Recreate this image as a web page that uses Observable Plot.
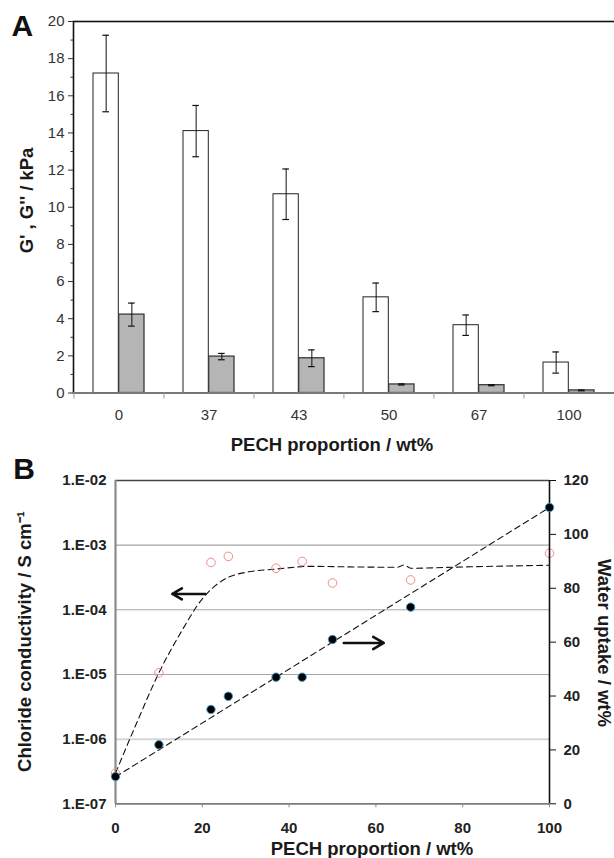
<!DOCTYPE html>
<html>
<head>
<meta charset="utf-8">
<script src="https://cdn.jsdelivr.net/npm/d3@7"></script>
<script src="https://cdn.jsdelivr.net/npm/@observablehq/plot@0.6"></script>
<style>
  body { margin: 0; background: #fff; }
  #wrap { position: relative; width: 614px; height: 858px; overflow: hidden; background: #fff; }
  #wrap svg { position: absolute; left: 0; }
</style>
</head>
<body>
<div id="wrap"></div>
<script>
// ---------- Panel A data ----------
const categories = ["0", "37", "43", "50", "67", "100"];
const gPrime      = [17.2, 14.1, 10.7, 5.15, 3.65, 1.64];
const gPrimeErr   = [2.06, 1.38, 1.36, 0.77, 0.55, 0.57];
const gDouble     = [4.22, 1.96, 1.87, 0.46, 0.42, 0.14];
const gDoubleErr  = [0.62, 0.17, 0.45, 0.03, 0.03, 0.02];
const yTicksA     = [0, 2, 4, 6, 8, 10, 12, 14, 16, 18, 20];
const yMinorA     = [1, 3, 5, 7, 9, 11, 13, 15, 17, 19];

// ---------- Panel B data ----------
const pech         = [0, 10, 22, 26, 37, 43, 50, 68, 100];
const conductivity = [2.97e-7, 1.06e-5, 5.4e-4, 6.7e-4, 4.4e-4, 5.6e-4, 2.6e-4, 2.9e-4, 7.5e-4];
const waterUptake  = [10.1, 21.9, 35, 39.9, 47, 47, 61, 73, 110];
const condFitX     = [0, 5, 10, 15, 20, 25, 30, 37, 45, 55, 65, 66.5, 68, 80, 100];
const condFitY     = [2.97e-7, 1.86e-6, 1.06e-5, 4.4e-5, 1.48e-4, 2.95e-4, 3.8e-4, 4.27e-4, 4.7e-4, 4.6e-4, 4.55e-4, 4.95e-4, 4.4e-4, 4.6e-4, 4.9e-4];
const waterFitX    = [0, 100];
const waterFitY    = [10, 110];
const condTicks    = [1e-2, 1e-3, 1e-4, 1e-5, 1e-6, 1e-7];
const condGrid     = [1e-3, 1e-4, 1e-5];
const condGridLight = [1e-6];
const waterTicks   = [0, 20, 40, 60, 80, 100, 120];
const xTicksB      = [0, 20, 40, 60, 80, 100];
const arrowCond    = [{x1: 20.7, x2: 13.1, y: 1.76e-4}];
const arrowWater   = [{x1: 52.6, x2: 61.8, y: 59.7}];

// ---------- tables ----------
const tableA = categories.map((c, i) => ({cat: c, gp: gPrime[i], gpe: gPrimeErr[i], gd: gDouble[i], gde: gDoubleErr[i]}));
const condData = pech.map((x, i) => ({x, y: conductivity[i]}));
const waterData = pech.map((x, i) => ({x, y: waterUptake[i]}));
const condFit = condFitX.map((x, i) => ({x, y: condFitY[i]}));
const waterFit = waterFitX.map((x, i) => ({x, y: waterFitY[i]}));

const FONT = "Arial, 'Liberation Sans', sans-serif";
const W = 614;

// ---------- Panel A ----------
const A_H = 440, A_ML = 73, A_MR = 0, A_MT = 21, A_MB = 47.5;
const padInner = 0.43, padOuter = 0.215;
const stepA = (W - A_ML - A_MR) / (categories.length - padInner + 2 * padOuter);
const bwA = stepA * (1 - padInner);
const half = bwA / 2;
const capW = 7;
const capInset = (bwA - capW) / 2;

const errMarks = (val, err, shift) => [
  Plot.ruleX(tableA, {x: "cat", y1: d => d[val] - d[err], y2: d => d[val] + d[err], dx: shift, stroke: "#111", strokeWidth: 1}),
  Plot.tickY(tableA, {x: "cat", y: d => d[val] + d[err], dx: shift, insetLeft: capInset, insetRight: capInset, stroke: "#111", strokeWidth: 1.2}),
  Plot.tickY(tableA, {x: "cat", y: d => d[val] - d[err], dx: shift, insetLeft: capInset, insetRight: capInset, stroke: "#111", strokeWidth: 1.2})
];

const titleStyle = {fontWeight: "bold", fontSize: 18.5, fill: "#1a1a1a", lineAnchor: "bottom", textAnchor: "middle"};

const plotA = Plot.plot({
  width: W, height: A_H,
  marginLeft: A_ML, marginRight: A_MR, marginTop: A_MT, marginBottom: A_MB,
  style: {fontFamily: FONT, fontSize: "15px", color: "#222", background: "transparent"},
  x: {type: "band", domain: categories, paddingInner: padInner, paddingOuter: padOuter, align: 0.5},
  y: {domain: [0, 20]},
  marks: [
    Plot.frame({stroke: "#111", strokeWidth: 1.6, insetRight: -10}),
    Plot.barY(tableA, {x: "cat", y: "gp", fill: "white", stroke: "#222", strokeWidth: 1, insetRight: half}),
    Plot.barY(tableA, {x: "cat", y: "gd", fill: "#b5b5b5", stroke: "#3a3a3a", strokeWidth: 1.3, insetLeft: half}),
    ...errMarks("gp", "gpe", -half / 2),
    ...errMarks("gd", "gde", half / 2),
    Plot.ruleY([0], {stroke: "#8c8c8c", strokeWidth: 1.6}),
    Plot.axisY(yTicksA, {tickSize: 5, tickPadding: 4, stroke: "#333", fill: "#333", fontSize: 15, label: null}),
    Plot.axisY(yMinorA, {tickSize: 2.5, tickFormat: () => "", stroke: "#333", label: null}),
    Plot.axisX({tickSize: 0, tickPadding: 16, fill: "#333", fontSize: 15, label: null}),
    Plot.axisX({tickSize: 6, tickFormat: () => "", dx: -stepA / 2, stroke: "#999", label: null}),
    Plot.text(["A"], {frameAnchor: "top-left", dx: -62, dy: 14, textAnchor: "start", lineAnchor: "bottom", fontSize: 30, fontWeight: "bold", fill: "#111"}),
    Plot.text(["G' , G'' / kPa"], {frameAnchor: "left", rotate: -90, dx: -41, dy: -6.75, ...titleStyle})
  ]
});
plotA.style.top = "0px";

// ---------- Panel B ----------
const B_TOP = 422, B_H = 436, B_ML = 115, B_MR = 65, B_MT = 58, B_MB = 54.7;
const fmtE = d => "1.E-" + String(Math.round(-Math.log10(d))).padStart(2, "0");

const plotB1 = Plot.plot({
  width: W, height: B_H,
  marginLeft: B_ML, marginRight: B_MR, marginTop: B_MT, marginBottom: B_MB,
  style: {fontFamily: FONT, fontSize: "15px", color: "#222", background: "transparent"},
  x: {domain: [0, 100]},
  y: {type: "log", domain: [1e-7, 1e-2]},
  marks: [
    Plot.ruleY(condGrid, {stroke: "#a6a6a6", strokeWidth: 1.1}),
    Plot.ruleY(condGridLight, {stroke: "#d6d6d6", strokeWidth: 2}),
    Plot.ruleY([1e-2], {stroke: "#444", strokeWidth: 1.6}),
    Plot.ruleY([1e-7], {stroke: "#7a7a7a", strokeWidth: 1.8}),
    Plot.ruleX([0], {stroke: "#8a8a8a", strokeWidth: 2.2}),
    Plot.line(condFit, {x: "x", y: "y", curve: "monotone-x", stroke: "#111", strokeWidth: 1.1, strokeDasharray: "6,4"}),
    Plot.dot(condData, {x: "x", y: "y", r: 4.3, stroke: "#f08a8a", fill: "none", strokeWidth: 1}),
    Plot.arrow(arrowCond, {x1: "x1", x2: "x2", y1: "y", y2: "y", stroke: "#111", strokeWidth: 2.6, headLength: 7}),
    Plot.axisY(condTicks, {tickSize: 0, tickPadding: 9, tickFormat: fmtE, fontWeight: "bold", fontSize: 15, fill: "#222", label: null}),
    Plot.axisX(xTicksB, {tickSize: 4, tickPadding: 15, stroke: "#888", fill: "#222", fontWeight: "bold", fontSize: 15, label: null}),
    // panel A x-axis title (drawn here so it is not clipped)
    Plot.text(["PECH proportion / wt%"], {frameAnchor: "top", dx: -0.5, dy: -30, ...titleStyle}),
    Plot.text(["B"], {frameAnchor: "top-left", dx: -102.3, dy: -1.7, textAnchor: "start", lineAnchor: "bottom", fontSize: 30, fontWeight: "bold", fill: "#111"}),
    Plot.text(["PECH proportion / wt%"], {frameAnchor: "bottom", dx: 39.5, dy: 50.7, ...titleStyle}),
    Plot.text(["Chloride conductivity / S cm\u207B\u00B9"], {frameAnchor: "left", rotate: -90, dx: -85, dy: -0.65, ...titleStyle})
  ]
});
plotB1.style.top = B_TOP + "px";

const plotB2 = Plot.plot({
  width: W, height: B_H,
  marginLeft: B_ML, marginRight: B_MR, marginTop: B_MT, marginBottom: B_MB,
  style: {fontFamily: FONT, fontSize: "15px", color: "#222", background: "transparent"},
  x: {domain: [0, 100], axis: null},
  y: {domain: [0, 120]},
  marks: [
    Plot.ruleX([100], {stroke: "#111", strokeWidth: 1.6}),
    Plot.line(waterFit, {x: "x", y: "y", stroke: "#111", strokeWidth: 1.1, strokeDasharray: "6,4"}),
    Plot.dot(waterData, {x: "x", y: "y", r: 4.2, fill: "#000", stroke: "#3f9ccb", strokeWidth: 1}),
    Plot.arrow(arrowWater, {x1: "x1", x2: "x2", y1: "y", y2: "y", stroke: "#111", strokeWidth: 2.6, headLength: 7}),
    Plot.axisY(waterTicks, {anchor: "right", tickSize: 6, tickPadding: 8, stroke: "#111", fill: "#222", fontWeight: "bold", fontSize: 15, label: null}),
    Plot.text(["Water uptake / wt%"], {frameAnchor: "right", rotate: 90, dx: 48, dy: 0.85, ...titleStyle})
  ]
});
plotB2.style.top = B_TOP + "px";
plotB2.style.pointerEvents = "none";

const wrap = document.getElementById("wrap");
wrap.appendChild(plotA);
wrap.appendChild(plotB1);
wrap.appendChild(plotB2);
</script>
</body>
</html>
